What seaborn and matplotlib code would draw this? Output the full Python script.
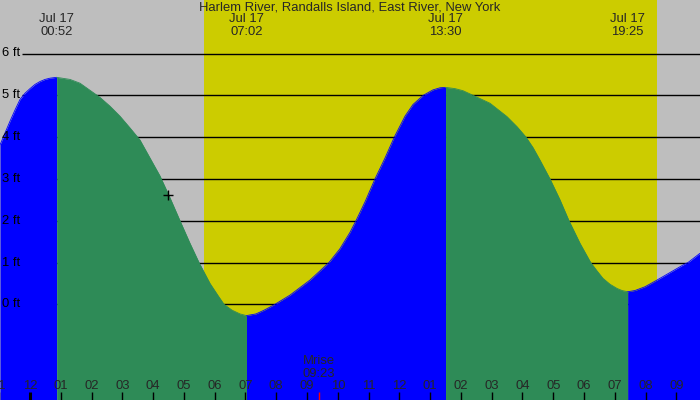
import matplotlib
matplotlib.use("Agg")
import matplotlib.pyplot as plt
import matplotlib.transforms as mtransforms
import seaborn as sns
import pandas as pd

# ---------------- data ----------------
title = "Harlem River, Randalls Island, East River, New York"

# tide curve (hours since midnight Jul 17, feet)
tide_hours = [-0.975, -0.812, -0.650, -0.487, -0.325, -0.162, 0.0, 0.162, 0.325, 0.487,
              0.650, 0.867, 1.300, 1.624, 1.949, 2.274, 2.599, 2.924, 3.249, 3.574,
              3.899, 4.224, 4.548, 4.873, 5.198, 5.491, 5.848, 6.108, 6.303, 6.563,
              6.823, 7.033, 7.342, 7.635, 7.960, 8.447, 8.772, 9.097, 9.422, 9.714,
              10.071, 10.396, 10.591, 10.884, 11.209, 11.534, 11.836, 12.183, 12.443, 12.778,
              13.093, 13.320, 13.500, 13.808, 14.068, 14.393, 14.945, 15.497, 15.822, 16.114,
              16.342, 16.569, 16.894, 17.219, 17.511, 17.869, 18.216, 18.421, 18.616, 18.843,
              19.071, 19.233, 19.417, 19.656, 19.981, 20.370, 20.793, 21.215, 21.378, 21.767]
tide_feet = [3.81, 4.10, 4.38, 4.65, 4.90, 5.05, 5.16, 5.26, 5.33, 5.38,
             5.41, 5.43, 5.38, 5.29, 5.12, 4.95, 4.74, 4.50, 4.22, 3.93,
             3.50, 3.07, 2.55, 2.00, 1.46, 1.00, 0.50, 0.21, 0.00, -0.14,
             -0.23, -0.27, -0.23, -0.13, 0.00, 0.22, 0.40, 0.58, 0.80, 1.00,
             1.33, 1.72, 2.00, 2.45, 3.00, 3.50, 4.00, 4.50, 4.78, 5.00,
             5.13, 5.18, 5.19, 5.16, 5.11, 5.00, 4.81, 4.49, 4.25, 4.00,
             3.75, 3.45, 3.00, 2.50, 2.00, 1.46, 1.00, 0.80, 0.62, 0.48,
             0.38, 0.33, 0.30, 0.33, 0.42, 0.58, 0.76, 0.94, 1.00, 1.22]

# high / low events
event_hours = [0.867, 7.033, 13.5, 19.417]
event_dates = ["Jul 17", "Jul 17", "Jul 17", "Jul 17"]
event_times = ["00:52", "07:02", "13:30", "19:25"]

# daylight
sunrise_hour = 5.65
sunset_hour = 20.37

# moonrise
moonrise_hour = 9.383
moonrise_label = ["Mrise", "09:23"]

# current time marker
now_hour = 4.48
now_feet = 2.61

# axis ticks
ft_levels = [0, 1, 2, 3, 4, 5, 6]
ft_labels = ["0 ft", "1 ft", "2 ft", "3 ft", "4 ft", "5 ft", "6 ft"]
hour_ticks = list(range(-1, 22))
hour_labels = ["11", "12", "01", "02", "03", "04", "05", "06", "07", "08", "09", "10",
               "11", "12", "01", "02", "03", "04", "05", "06", "07", "08", "09"]

# ---------------- style ----------------
GRAY = "#BEBEBE"
YELLOW = "#CCCC00"
BLUE = "#0000FF"
GREEN = "#2E8B57"

sns.set_style("white")
plt.rcParams["font.family"] = ["Liberation Sans", "DejaVu Sans"]
FS = 9.4

fig = plt.figure(figsize=(7, 4), dpi=100)
fig.patch.set_facecolor(GRAY)
ax = fig.add_axes([0, 0, 1, 1])
ax.set_facecolor(GRAY)
X0 = 30.0
PXH = 30.78
ax.set_xlim(-X0 / PXH, (700 - X0) / PXH)
YFT0 = 304.3
PXF = 41.8
ymin = (YFT0 - 400) / PXF
ymax = YFT0 / PXF
ax.set_ylim(ymin, ymax)
for s in ax.spines.values():
    s.set_visible(False)
ax.set_xticks([])
ax.set_yticks([])

# daylight band
ax.axvspan(sunrise_hour, sunset_hour, color=YELLOW, lw=0, zorder=1)

# horizontal level lines (start after the labels)
line_start = (22 - X0) / PXH
ax.hlines(ft_levels, line_start, (700 - X0) / PXH, colors="black", lw=1.0, zorder=2)

# tide fill: blue rising, green falling
df = pd.DataFrame({"hour": tide_hours, "feet": tide_feet})
bounds = [tide_hours[0]] + event_hours + [tide_hours[-1]]
colors_seq = [BLUE, GREEN, BLUE, GREEN, BLUE]
for i in range(len(bounds) - 1):
    seg = df[(df.hour >= bounds[i]) & (df.hour <= bounds[i + 1])]
    ax.fill_between(seg.hour, seg.feet, ymin, color=colors_seq[i], lw=0, zorder=3)
    sns.lineplot(data=seg, x="hour", y="feet", ax=ax, color=colors_seq[i],
                 lw=0.6, zorder=3, sort=True, estimator=None)

ax.set_xlabel("")
ax.set_ylabel("")

# labels for feet levels
for lv, lab in zip(ft_levels, ft_labels):
    ax.text(-X0 / PXH + 2 / PXH, lv, lab, ha="left", va="center", fontsize=FS,
            color="black", zorder=5)

trans = mtransforms.blended_transform_factory(ax.transData, ax.transAxes)

def fy(px):
    return 1 - px / 400.0

# title
ax.text(0.5, fy(7), title, transform=ax.transAxes, ha="center", va="center",
        fontsize=FS, zorder=6)

# event labels
for h, d, t in zip(event_hours, event_dates, event_times):
    ax.text(h, fy(19), d, transform=trans, ha="center", va="center", fontsize=FS, zorder=6)
    ax.text(h, fy(32), t, transform=trans, ha="center", va="center", fontsize=FS, zorder=6)

# hour ticks and labels
for h, lab in zip(hour_ticks, hour_labels):
    lw = 2.2 if h == 0 else 1.0
    ax.plot([h, h], [0, fy(392)], transform=trans, color="black", lw=lw,
            zorder=6, solid_capstyle="butt")
    ax.text(h, fy(386), lab, transform=trans, ha="center", va="center",
            fontsize=FS, zorder=6)

# moonrise
ax.plot([moonrise_hour, moonrise_hour], [0, fy(392)], transform=trans, color="red",
        lw=1.0, zorder=6, solid_capstyle="butt")
ax.text(moonrise_hour, fy(361), moonrise_label[0], transform=trans, ha="center",
        va="center", fontsize=FS, zorder=6)
ax.text(moonrise_hour, fy(374), moonrise_label[1], transform=trans, ha="center",
        va="center", fontsize=FS, zorder=6)

# current time marker
ax.plot([now_hour], [now_feet], marker="+", color="black", markersize=7,
        markeredgewidth=1.0, zorder=7)

fig.savefig("out.png", dpi=100, facecolor=GRAY)
